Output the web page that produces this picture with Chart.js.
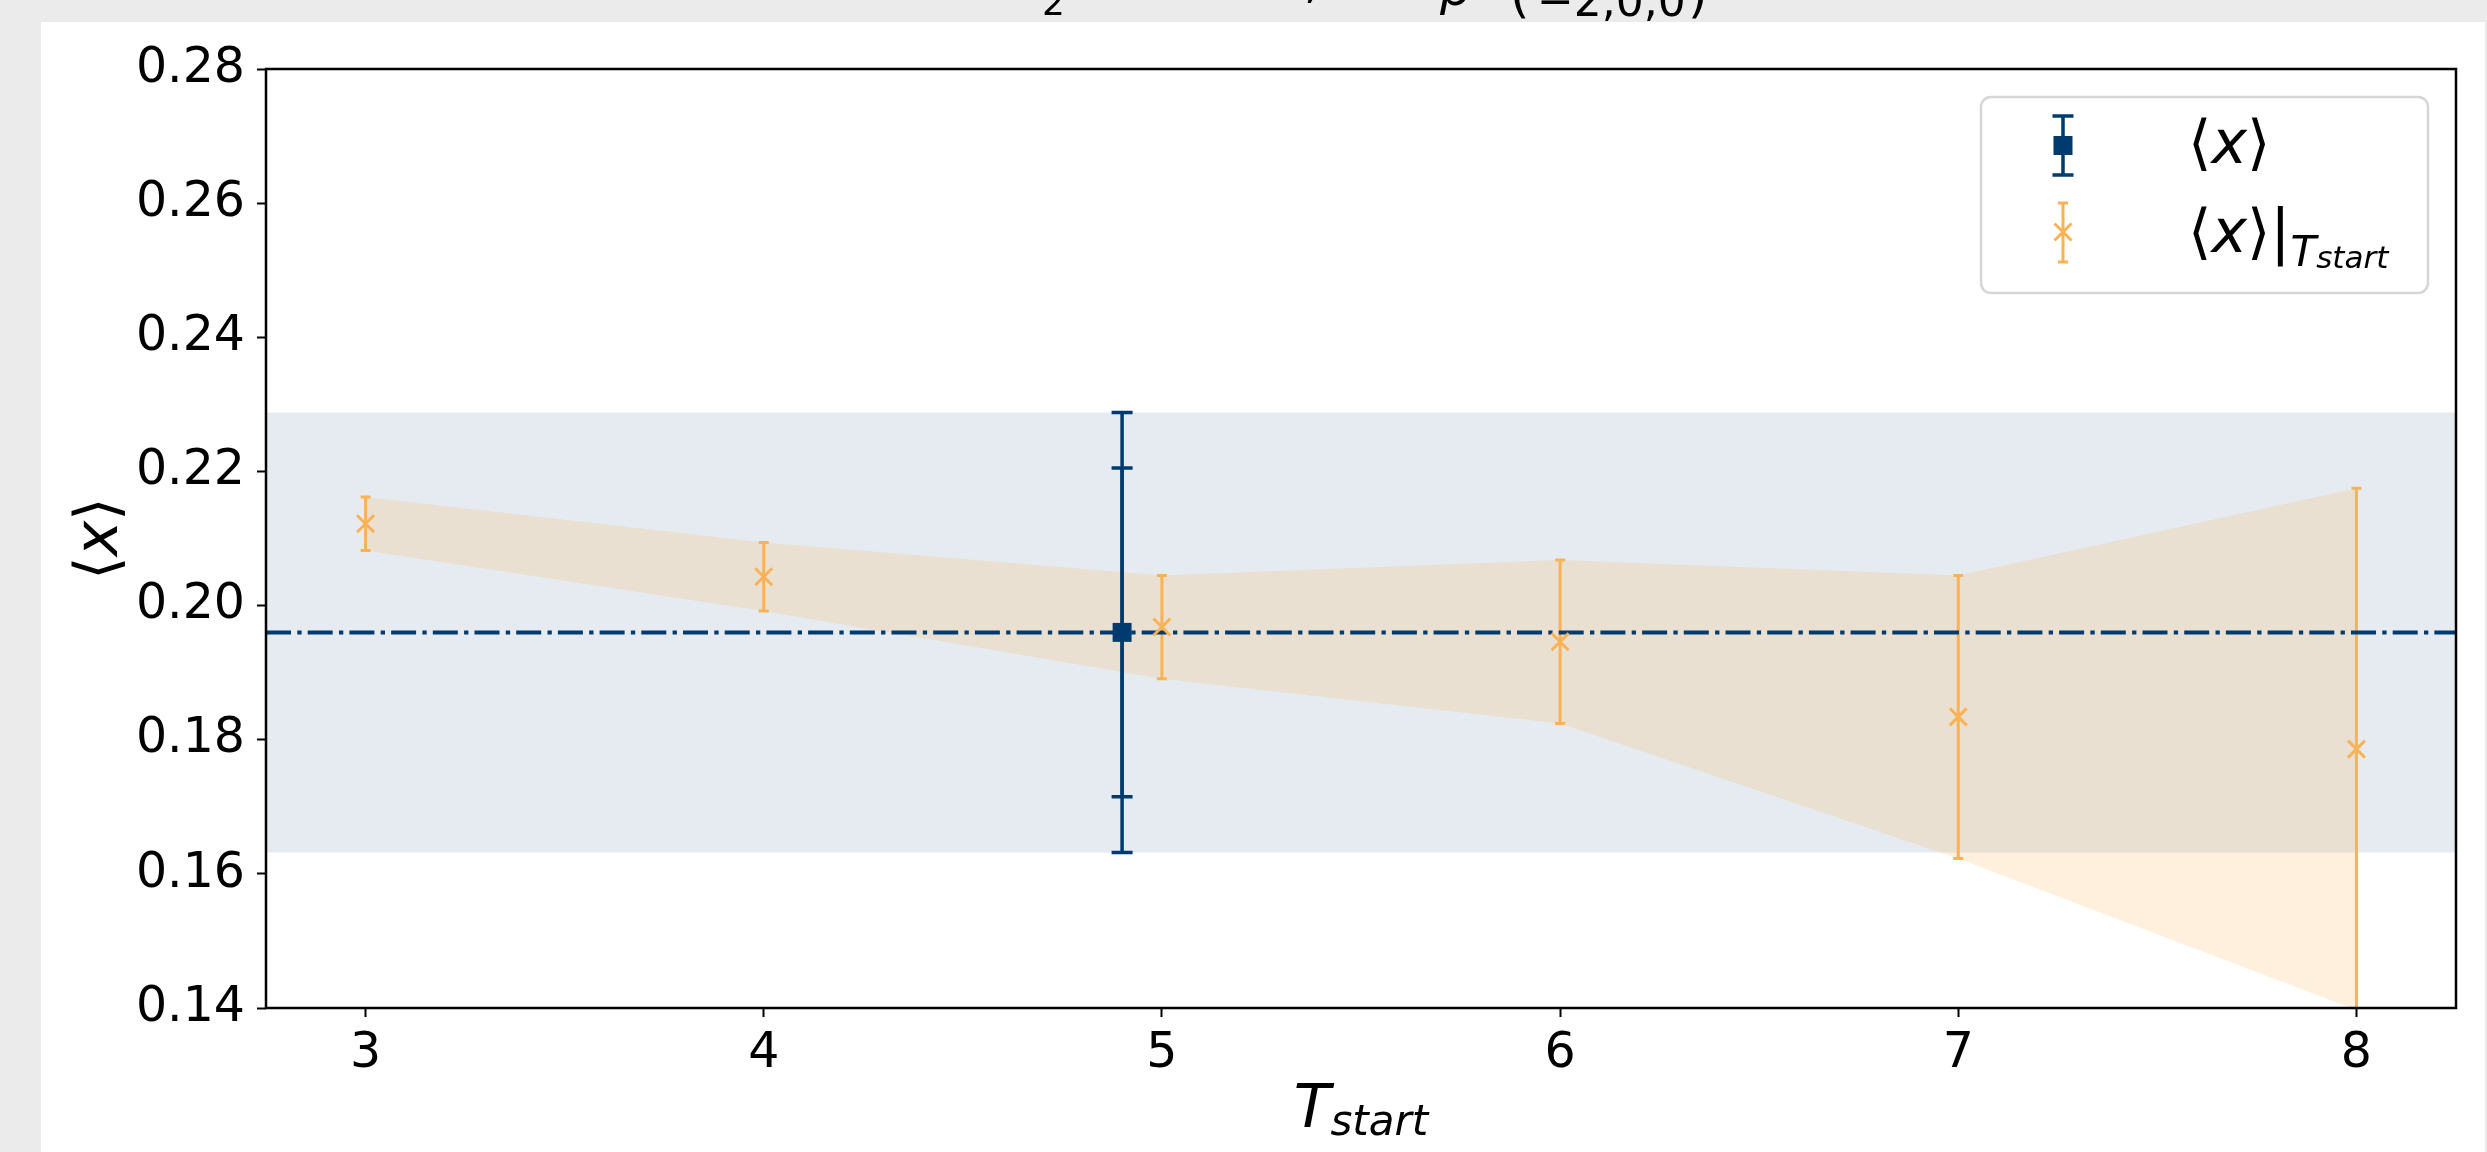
<!DOCTYPE html>
<html><head><meta charset="utf-8">
<script src="https://cdn.jsdelivr.net/npm/chart.js@4.4.0/dist/chart.umd.min.js"></script>
<style>
html,body{margin:0;padding:0;background:#ebebeb;overflow:hidden;}
#c{position:absolute;left:0;top:0;}
</style></head><body>
<canvas id="c" width="2487" height="1152"></canvas>
<script>
// ---- data ----
const tStart   = [3, 4, 5, 6, 7, 8];
const xAtT     = [0.2122, 0.2043, 0.1968, 0.1946, 0.1834, 0.1786];
const xAtTErr  = [0.0040, 0.0051, 0.0077, 0.0122, 0.0211, 0.0389];
const fitT       = [4.9];
const fitValue   = [0.1960];
const fitErrStat = [0.0245];
const fitErrTot  = [0.0328];
const xRange = [2.75, 8.25];
const yRange = [0.14, 0.28];
const xTicks = [3, 4, 5, 6, 7, 8];
const yTicks = [0.14, 0.16, 0.18, 0.20, 0.22, 0.24, 0.26, 0.28];
// title (top part is cut off in the original); [text, x, baseline, style, align]
const titleParts = [
  ["⟨x⟩ ratio fit, O", 1040, -7, "50px", "right"],
  ["2", 1042, 15, "36px", "left"],
  ["insertion,", 1085, -3, "50px", "left"],
  ["p", 1440, 5, "italic 50px", "left"],
  ["=", 1470, -3, "50px", "left"],
  ["(", 1510, 12, "50px", "left"],
  ["−2,0,0", 1537, 16, "44px", "left"],
  [")", 1688, 12, "50px", "left"]
];

const W = 2487, H = 1152;
const NAVY = '#003b6f';
const ORANGE = 'rgb(250,178,87)';
const FONT = '"DejaVu Sans"';

function drawErr(chart, xs, ys, errs, color, lw, capW) {
  const {ctx, chartArea: a, scales: {x, y}} = chart;
  ctx.save();
  ctx.beginPath(); ctx.rect(a.left, a.top, a.right - a.left, a.bottom - a.top); ctx.clip();
  ctx.strokeStyle = color; ctx.lineWidth = lw; ctx.lineCap = 'butt'; ctx.setLineDash([]);
  xs.forEach((xv, i) => {
    const px = x.getPixelForValue(xv);
    const p1 = y.getPixelForValue(ys[i] + errs[i]);
    const p2 = y.getPixelForValue(ys[i] - errs[i]);
    ctx.beginPath();
    ctx.moveTo(px, p1); ctx.lineTo(px, p2);
    ctx.moveTo(px - capW / 2, p1); ctx.lineTo(px + capW / 2, p1);
    ctx.moveTo(px - capW / 2, p2); ctx.lineTo(px + capW / 2, p2);
    ctx.stroke();
  });
  ctx.restore();
}

function drawPieces(ctx, x, y, pieces) {
  let cx = x;
  pieces.forEach(p => {
    ctx.font = p[1];
    ctx.fillText(p[0], cx, y + (p[2] || 0));
    cx += ctx.measureText(p[0]).width;
  });
  return cx;
}
function piecesWidth(ctx, pieces) {
  let w = 0;
  pieces.forEach(p => { ctx.font = p[1]; w += ctx.measureText(p[0]).width; });
  return w;
}

const bgPlugin = {
  id: 'bg',
  beforeDraw(chart) {
    const c = chart.ctx;
    c.save();
    c.fillStyle = '#ebebeb'; c.fillRect(0, 0, W, H);
    c.fillStyle = '#ffffff'; c.fillRect(41, 22, 2444, H - 22);
    c.fillStyle = '#000';
    c.textBaseline = 'alphabetic';
    titleParts.forEach(p => {
      c.font = p[3] + ' ' + FONT;
      c.textAlign = p[4];
      c.fillText(p[0], p[1], p[2]);
    });
    c.restore();
  }
};

const errPlugin = {
  id: 'errbars',
  beforeDatasetDraw(chart, args) {
    if (args.index === 4) {
      drawErr(chart, tStart, xAtT, xAtTErr, ORANGE, 3, 10);
    }
    if (args.index === 6) {
      drawErr(chart, fitT, fitValue, fitErrTot, NAVY, 3.5, 21);
      drawErr(chart, fitT, fitValue, fitErrStat, NAVY, 3.5, 21);
    }
  }
};

const framePlugin = {
  id: 'frame',
  afterDatasetsDraw(chart) {
    const {ctx, chartArea: a} = chart;
    ctx.save();
    ctx.strokeStyle = '#000'; ctx.lineWidth = 2.5; ctx.setLineDash([]);
    ctx.strokeRect(a.left, a.top, a.right - a.left, a.bottom - a.top);
    ctx.restore();
  }
};

const labelPlugin = {
  id: 'labels',
  afterDraw(chart) {
    const {ctx, chartArea: a} = chart;
    ctx.save();
    ctx.fillStyle = '#000'; ctx.textBaseline = 'alphabetic'; ctx.textAlign = 'left';
    const xp = [['T', 'italic 60px ' + FONT, 0], ['start', 'italic 42px ' + FONT, 8]];
    const wx = piecesWidth(ctx, xp);
    drawPieces(ctx, (a.left + a.right) / 2 - wx / 2, 1127, xp);
    const yp = [['⟨', '60px ' + FONT, 0], ['x', 'italic 60px ' + FONT, 0], ['⟩', '60px ' + FONT, 0]];
    const wy = piecesWidth(ctx, yp);
    ctx.translate(117, (a.top + a.bottom) / 2);
    ctx.rotate(-Math.PI / 2);
    drawPieces(ctx, -wy / 2, 0, yp);
    ctx.restore();
  }
};

const legendPlugin = {
  id: 'customLegend',
  afterDraw(chart) {
    const ctx = chart.ctx;
    ctx.save();
    ctx.beginPath();
    ctx.roundRect(1981, 97, 447, 196, 10);
    ctx.fillStyle = 'rgba(255,255,255,0.8)'; ctx.fill();
    ctx.strokeStyle = '#d6d6d6'; ctx.lineWidth = 2.5; ctx.stroke();
    const mx = 2063;
    ctx.strokeStyle = NAVY; ctx.lineWidth = 3.5;
    ctx.beginPath();
    ctx.moveTo(mx, 116); ctx.lineTo(mx, 175);
    ctx.moveTo(mx - 10.5, 116); ctx.lineTo(mx + 10.5, 116);
    ctx.moveTo(mx - 10.5, 175); ctx.lineTo(mx + 10.5, 175);
    ctx.stroke();
    ctx.fillStyle = NAVY; ctx.fillRect(mx - 9.5, 136, 19, 19);
    ctx.strokeStyle = ORANGE; ctx.lineWidth = 3;
    ctx.beginPath();
    ctx.moveTo(mx, 203); ctx.lineTo(mx, 262);
    ctx.moveTo(mx - 5, 203); ctx.lineTo(mx + 5, 203);
    ctx.moveTo(mx - 5, 262); ctx.lineTo(mx + 5, 262);
    ctx.moveTo(mx - 8.5, 223.5); ctx.lineTo(mx + 8.5, 240.5);
    ctx.moveTo(mx - 8.5, 240.5); ctx.lineTo(mx + 8.5, 223.5);
    ctx.stroke();
    ctx.fillStyle = '#000'; ctx.textBaseline = 'alphabetic'; ctx.textAlign = 'left';
    drawPieces(ctx, 2188, 163, [['⟨', '60px ' + FONT], ['x', 'italic 60px ' + FONT], ['⟩', '60px ' + FONT]]);
    drawPieces(ctx, 2188, 252, [['⟨', '60px ' + FONT, 0], ['x', 'italic 60px ' + FONT, 0], ['⟩', '60px ' + FONT, 0],
      ['|', '60px ' + FONT, 0], ['T', 'italic 42px ' + FONT, 14], ['start', 'italic 31px ' + FONT, 16]]);
    ctx.restore();
  }
};

const tickFont = {family: 'DejaVu Sans', size: 49};

new Chart(document.getElementById('c'), {
  type: 'scatter',
  data: {
    datasets: [
      { type: 'line', label: 'bandHi',
        data: xRange.map(v => ({x: v, y: fitValue[0] + fitErrTot[0]})),
        fill: '+1', backgroundColor: 'rgba(0,59,111,0.1)', borderColor: 'rgba(0,0,0,0)', borderWidth: 0,
        pointRadius: 0, order: 9 },
      { type: 'line', label: 'bandLo',
        data: xRange.map(v => ({x: v, y: fitValue[0] - fitErrTot[0]})),
        fill: false, borderColor: 'rgba(0,0,0,0)', borderWidth: 0, pointRadius: 0, order: 8 },
      { type: 'line', label: 'tHi',
        data: tStart.map((t, i) => ({x: t, y: xAtT[i] + xAtTErr[i]})),
        fill: '+1', backgroundColor: 'rgba(250,178,87,0.2)', borderColor: 'rgba(0,0,0,0)', borderWidth: 0,
        pointRadius: 0, tension: 0, order: 7 },
      { type: 'line', label: 'tLo',
        data: tStart.map((t, i) => ({x: t, y: xAtT[i] - xAtTErr[i]})),
        fill: false, borderColor: 'rgba(0,0,0,0)', borderWidth: 0, pointRadius: 0, tension: 0, order: 6 },
      { type: 'line', label: 'mean',
        data: xRange.map(v => ({x: v, y: fitValue[0]})),
        fill: false, borderColor: NAVY, borderWidth: 4, borderDash: [25, 6.3, 4.3, 6.1],
        pointRadius: 0, order: 4 },
      { label: '⟨x⟩|T_start',
        data: tStart.map((t, i) => ({x: t, y: xAtT[i]})),
        pointStyle: 'crossRot', pointRadius: 12, borderColor: ORANGE, backgroundColor: ORANGE,
        borderWidth: 3, order: 3 },
      { label: '⟨x⟩',
        data: fitT.map((t, i) => ({x: t, y: fitValue[i]})),
        pointStyle: 'rect', pointRadius: 13.4, borderColor: NAVY, backgroundColor: NAVY,
        borderWidth: 0, order: 2 }
    ]
  },
  options: {
    responsive: false, animation: false, devicePixelRatio: 1, events: [],
    layout: {padding: {left: 0, right: 31, top: 69, bottom: 0}},
    plugins: {legend: {display: false}, tooltip: {enabled: false}, title: {display: false}},
    scales: {
      x: {
        type: 'linear', min: xRange[0], max: xRange[1],
        afterBuildTicks: s => { s.ticks = xTicks.map(v => ({value: v})); },
        afterFit: s => { s.height = 144; },
        ticks: {font: tickFont, color: '#000', padding: 8, maxRotation: 0, autoSkip: false,
                callback: v => String(v)},
        grid: {drawOnChartArea: false, drawTicks: true, tickLength: 9, tickWidth: 2, color: '#000'},
        border: {display: false}
      },
      y: {
        type: 'linear', min: yRange[0], max: yRange[1],
        afterBuildTicks: s => { s.ticks = yTicks.map(v => ({value: v})); },
        afterFit: s => { s.width = 266; },
        ticks: {font: tickFont, color: '#000', padding: 12, autoSkip: false,
                callback: v => Number(v).toFixed(2)},
        grid: {drawOnChartArea: false, drawTicks: true, tickLength: 9, tickWidth: 2, color: '#000'},
        border: {display: false}
      }
    }
  },
  plugins: [bgPlugin, errPlugin, framePlugin, labelPlugin, legendPlugin]
});
</script>
</body></html>
